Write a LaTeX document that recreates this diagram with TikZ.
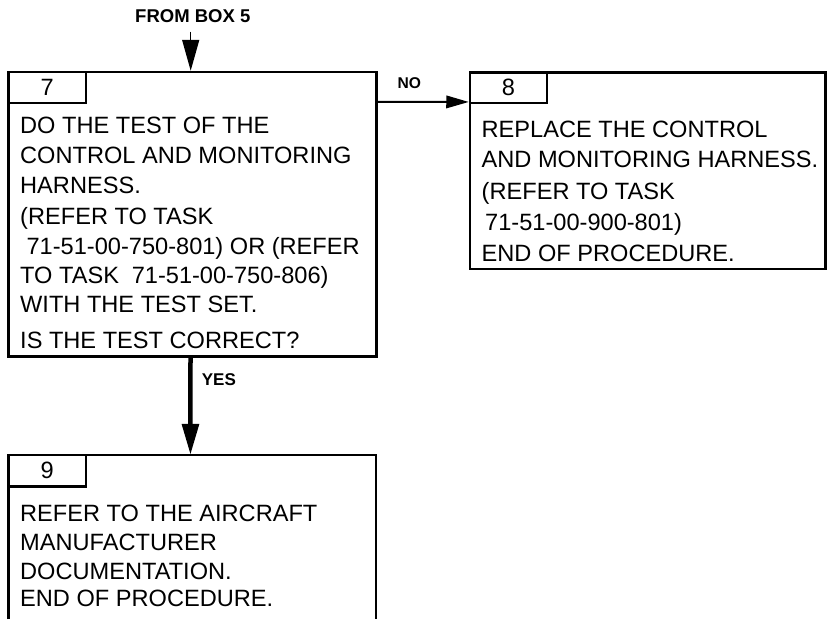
\documentclass[tikz,border=0pt]{standalone}
\usepackage{fontspec}
\setmainfont{Liberation Sans}
\usetikzlibrary{arrows.meta,calc}
\begin{document}
\begin{tikzpicture}[x=1pt,y=-1pt,
  boxframe/.style={draw, line width=2.5pt, inner sep=0pt},
  boxopen/.style={inner sep=0pt},
  tabbox/.style={draw, line width=2.5pt, inner sep=0pt, font=\fontsize{23.6}{30}\selectfont},
  txt/.style={anchor=base west, inner sep=0pt, font=\fontsize{23.6}{30}\selectfont},
  lbl/.style={anchor=base west, inner sep=0pt, font=\fontsize{17}{20}\selectfont\bfseries},
  thinarrow/.style={line width=1.5pt, -{Triangle[length=31pt,width=17pt]}},
  noarrow/.style={line width=2pt, -{Triangle[length=22.5pt,width=12.5pt]}},
  yesarrow/.style={line width=4.5pt, -{Triangle[length=31pt,width=16.5pt]}},
]
\useasboundingbox (0,0) rectangle (827,619);

% Box 7
\node[boxframe, minimum width=368pt, minimum height=284.5pt] (b7) at (192.5,214.25) {};
\node[tabbox, minimum width=77.5pt, minimum height=31pt] (t7) at (47.25,87.5) {7};
\node[txt] (b7l1) at (20,133) {DO THE TEST OF THE};
\node[txt] (b7l2) at (20,163) {CONTROL AND MONITORING};
\node[txt] (b7l3) at (20,193) {HARNESS.};
\node[txt] (b7l4) at (20,224) {(REFER TO TASK};
\node[txt] (b7l5) at (20,254) {\hspace*{6.4pt}71-51-00-750-801) OR (REFER};
\node[txt] (b7l6) at (20,283) {TO TASK\hspace{12.8pt}71-51-00-750-806)};
\node[txt] (b7l7) at (20,312) {WITH THE TEST SET.};
\node[txt] (b7l8) at (20,348) {IS THE TEST CORRECT?};

% Box 8
\node[boxframe, minimum width=355.5pt, minimum height=196.3pt] (b8) at (647.75,170.85) {};
\node[tabbox, minimum width=77pt, minimum height=30.3pt] (t8) at (508.5,87.85) {8};
\node[txt] (b8l1) at (481.5,137) {REPLACE THE CONTROL};
\node[txt] (b8l2) at (481.5,167) {AND MONITORING HARNESS.};
\node[txt] (b8l3) at (481.5,199) {(REFER TO TASK};
\node[txt] (b8l4) at (481.5,230) {\hspace*{3.5pt}71-51-00-900-801)};
\node[txt] (b8l5) at (481.5,261) {END OF PROCEDURE.};

% Box 9 (open at the bottom)
\node[boxopen, minimum width=367.5pt, minimum height=164pt] (b9) at (192.25,537) {};
\draw[line width=2.5pt] (b9.south west) -- (b9.north west) -- (b9.north east) -- (b9.south east);
\node[tabbox, minimum width=77.5pt, minimum height=31.7pt] (t9) at (47.25,470.85) {9};
\node[txt] (b9l1) at (20,521) {REFER TO THE AIRCRAFT};
\node[txt] (b9l2) at (20,550) {MANUFACTURER};
\node[txt] (b9l3) at (20,579) {DOCUMENTATION.};
\node[txt] (b9l4) at (20,606.5) {END OF PROCEDURE.};

% Connectors
\node[lbl, font=\fontsize{18.5}{20}\selectfont\bfseries] (from5) at (135,22.7) {FROM BOX 5};
\coordinate (from5end) at (190.7,31.5);
\draw[thinarrow] (from5end) -- (from5end |- b7.north);

\node[lbl, font=\fontsize{15.6}{20}\selectfont\bfseries] (nolbl) at (397.3,88.3) {NO};
\draw[noarrow] ($(b7.north east)+(0,31)$) -- ($(b8.north west)+(0,30.5)$);

\node[lbl] (yeslbl) at (201.7,385.7) {YES};
\draw[yesarrow] ($(b7.south)+(-2,0)$) -- ($(b9.north)+(-1.8,0)$);
\end{tikzpicture}
\end{document}
